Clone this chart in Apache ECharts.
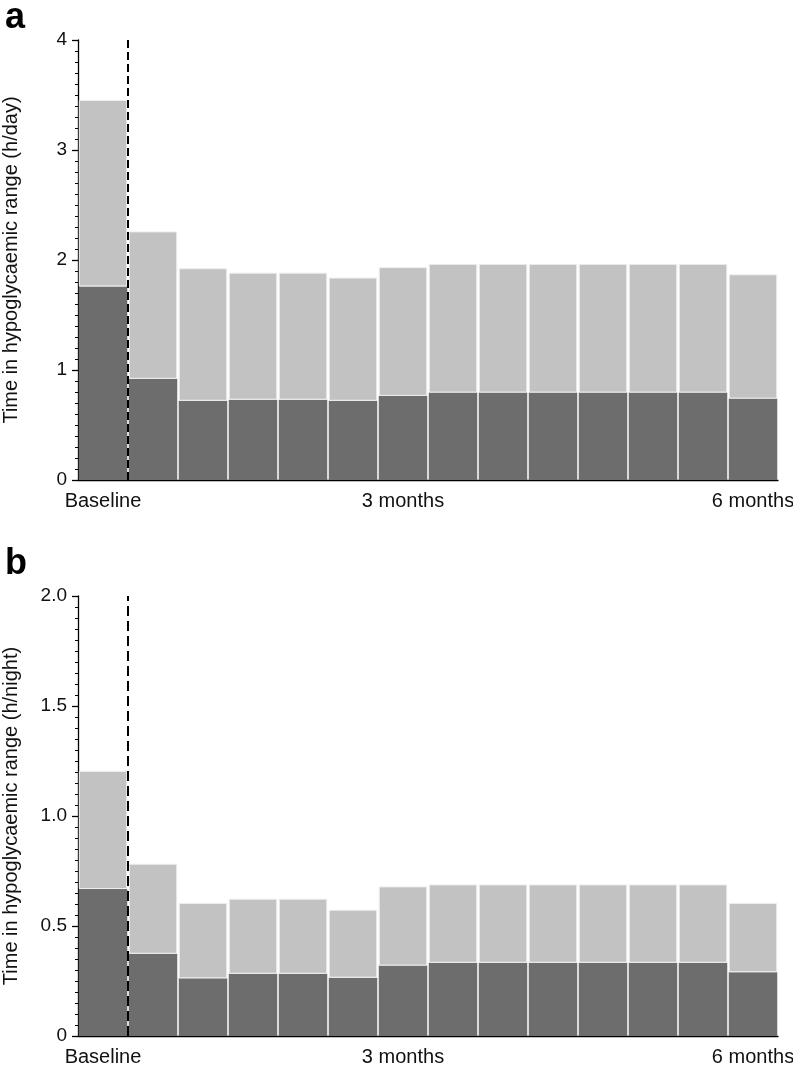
<!DOCTYPE html>
<html>
<head>
<meta charset="utf-8">
<script src="https://cdn.jsdelivr.net/npm/echarts@6/dist/echarts.min.js"></script>
<style>
html,body{margin:0;padding:0;background:#fff;}
#chart{width:793px;height:1065px;}
</style>
</head>
<body>
<div id="chart"></div>
<script>
// ---- data ----
const categories = ['Baseline','m1','m2','m3','m4','m5','3 months','m7','m8','m9','m10','m11','m12','6 months'];
const labelledIdx = [0, 6, 13];
// panel a: hours/day
const darkA  = [1.76, 0.92, 0.72, 0.73, 0.73, 0.72, 0.765, 0.795, 0.795, 0.795, 0.795, 0.795, 0.795, 0.74];
const totalA = [3.455, 2.26, 1.925, 1.885, 1.885, 1.84, 1.935, 1.965, 1.965, 1.965, 1.965, 1.965, 1.965, 1.87];
// panel b: hours/night
const darkB  = [0.668, 0.374, 0.262, 0.283, 0.283, 0.265, 0.32, 0.333, 0.333, 0.333, 0.333, 0.333, 0.333, 0.29];
const totalB = [1.205, 0.783, 0.605, 0.624, 0.624, 0.574, 0.68, 0.689, 0.689, 0.689, 0.689, 0.689, 0.689, 0.605];
const yMaxA = 4, yStepA = 1;
const yMaxB = 2, yStepB = 0.5;
const dividerX = 0.5; // between baseline and first follow-up bar
const yNameA = 'Time in hypoglycaemic range (h/day)';
const yNameB = 'Time in hypoglycaemic range (h/night)';

const FONT = '"Liberation Sans", Arial, Helvetica, sans-serif';
const DARK = '#6d6d6d', LIGHT = '#c2c2c2';
const lightA = totalA.map((t,i)=>+(t-darkA[i]).toFixed(4));
const lightB = totalB.map((t,i)=>+(t-darkB[i]).toFixed(4));

const chart = echarts.init(document.getElementById('chart'), null, {renderer:'canvas'});

function catAxis(gi){
  return {
    type:'category', gridIndex:gi, data:categories, boundaryGap:true,
    axisLine:{onZero:false, lineStyle:{color:'#000', width:1.3}},
    axisTick:{alignWithLabel:true, length:6, lineStyle:{color:'#000', width:1.3},
      interval:(i)=>labelledIdx.indexOf(i)>=0},
    axisLabel:{interval:(i)=>labelledIdx.indexOf(i)>=0, color:'#111', fontSize:20, fontFamily:FONT, margin:11},
    splitLine:{show:false}
  };
}
function hiddenX(gi){
  return {type:'value', gridIndex:gi, min:-0.5, max:categories.length-0.5, show:false,
    axisLine:{onZero:false}};
}
function valAxis(gi, max, step, name, fmt){
  return {
    type:'value', gridIndex:gi, min:0, max:max, interval:step, position:'left',
    name:name, nameLocation:'middle', nameGap:57,
    nameTextStyle:{color:'#111', fontSize:20, fontFamily:FONT},
    axisLine:{show:true, onZero:false, lineStyle:{color:'#000', width:1.3}},
    axisTick:{show:true, length:6, lineStyle:{color:'#000', width:1.3}},
    minorTick:{show:true, splitNumber:10, length:3, lineStyle:{color:'#000', width:1}},
    axisLabel:{color:'#111', fontSize:19, fontFamily:FONT, margin:11, formatter:fmt},
    splitLine:{show:false}
  };
}
function bars(gi, dark, light, stack){
  const xi = gi*2;
  return [
    {type:'bar', xAxisIndex:xi, yAxisIndex:gi, stack:stack, data:dark, barCategoryGap:1.5,
     itemStyle:{color:DARK}, silent:true},
    {type:'bar', xAxisIndex:xi, yAxisIndex:gi, stack:stack, data:light, barCategoryGap:1.5,
     itemStyle:{color:LIGHT, borderColor:'#eeeeee', borderWidth:1}, silent:true}
  ];
}
function divider(gi, top){
  return {type:'line', xAxisIndex:gi*2+1, yAxisIndex:gi, data:[[dividerX,0],[dividerX,top]],
    symbol:'none', silent:true, z:10,
    lineStyle:{color:'#000', width:2, type: gi===0 ? [8,4] : [10,5]}};
}

chart.setOption({
  animation:false,
  backgroundColor:'#fff',
  title:[
    {text:'a', left:0, top:-5, textStyle:{fontSize:36, fontWeight:'bold', color:'#000', fontFamily:FONT}},
    {text:'b', left:0, top:541, textStyle:{fontSize:36, fontWeight:'bold', color:'#000', fontFamily:FONT}}
  ],
  grid:[
    {left:78, right:15, top:40, height:440, containLabel:false, outerBoundsMode:'none'},
    {left:78, right:15, top:596, height:440, containLabel:false, outerBoundsMode:'none'}
  ],
  xAxis:[catAxis(0), hiddenX(0), catAxis(1), hiddenX(1)],
  yAxis:[
    valAxis(0, yMaxA, yStepA, yNameA, v=>String(v)),
    valAxis(1, yMaxB, yStepB, yNameB, v=> v===0 ? '0' : v.toFixed(1))
  ],
  series:[
    ...bars(0, darkA, lightA, 'a'),
    divider(0, yMaxA),
    ...bars(1, darkB, lightB, 'b'),
    divider(1, yMaxB)
  ]
});
</script>
</body>
</html>
